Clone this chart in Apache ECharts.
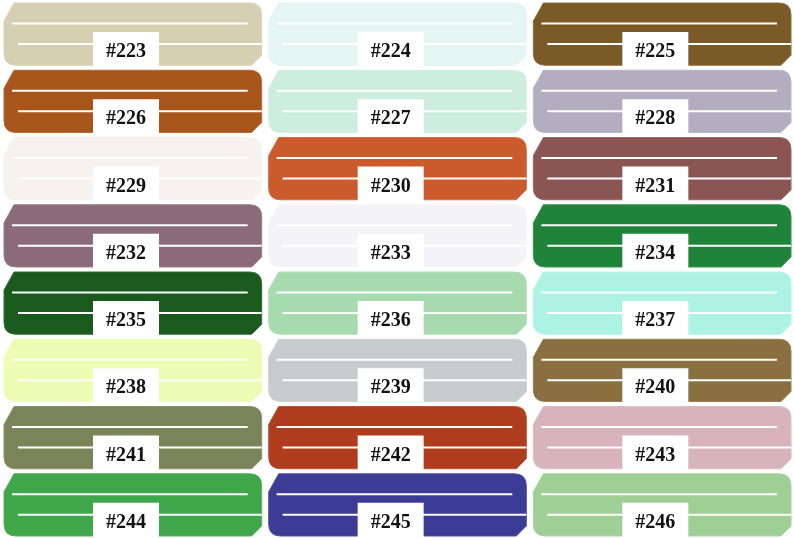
<!DOCTYPE html>
<html><head><meta charset="utf-8">
<script src="https://cdn.jsdelivr.net/npm/echarts@6/dist/echarts.min.js"></script>
<style>html,body{margin:0;padding:0;background:#fff}#c{width:794px;height:538px}</style>
</head><body><div id="c"></div>
<script>
// thread numbers, read row by row (3 per row)
const codes = ['#223','#224','#225','#226','#227','#228','#229','#230','#231','#232','#233','#234',
  '#235','#236','#237','#238','#239','#240','#241','#242','#243','#244','#245','#246'];
const colors = ['#d6cfb2','#e4f5f2','#7a5a26','#a7561b','#cdeedf','#b3aebf','#f7f1ef','#cb5a2d','#8b5553',
  '#8b6b77','#f4f4f6','#1f8439','#1b5a1d','#a7dbaf','#acf3e4','#edfbb3','#c7cbcb','#8a6f41',
  '#7b8358','#af3c1d','#d7b3bd','#3fa749','#3c3c97','#9fcf94'];
const cols = ['0','1','2'];
const rows = ['0','1','2','3','4','5','6','7'];

let cells = codes.map((c, i) => [i % 3, Math.floor(i / 3), i]);

let chart = echarts.init(document.getElementById('c'));

function renderItem(params, api) {
  let p = api.coord([api.value(0), api.value(1)]);
  let s = api.size([1, 1]);
  let i = api.value(2);
  let w = s[0], h = s[1];
  let x0 = p[0] - w / 2 + 4, x1 = p[0] + w / 2 - 3;
  let y0 = p[1] - h / 2 + 3, y1 = p[1] + h / 2 - 2;
  let r = 12, sl = 10;
  let d = `M${x0 + sl},${y0} L${x1 - r},${y0} Q${x1},${y0} ${x1},${y0 + r} L${x1},${y1 - 10} L${x1 - sl},${y1} ` +
    `L${x0 + r},${y1} Q${x0},${y1} ${x0},${y1 - r} L${x0},${y0 + 18} Z`;
  let col = colors[i];
  let ya = y0 + (y1 - y0) * 0.33, yb = y0 + (y1 - y0) * 0.66;
  let bx = p[0] - w / 2 + 93;
  return {
    type: 'group',
    children: [
      { type: 'path', shape: { pathData: d }, style: { fill: col, stroke: echarts.color.lift(col, 0.12), lineWidth: 1 } },
      { type: 'line', shape: { x1: x0 + 8, y1: ya, x2: x1 - 14, y2: ya }, style: { stroke: '#fff', lineWidth: 2 } },
      { type: 'line', shape: { x1: x0 + 14, y1: yb, x2: x1, y2: yb }, style: { stroke: '#fff', lineWidth: 2 } },
      { type: 'rect', shape: { x: bx, y: p[1] - h / 2 + 32, width: 66, height: h - 32 }, style: { fill: '#fff' } },
      { type: 'text', style: { text: codes[i], x: bx + 33, y: p[1] - h / 2 + 52, align: 'center', verticalAlign: 'middle',
          font: 'bold 20px "Liberation Serif", serif', fill: '#111' } }
    ]
  };
}

chart.setOption({
  animation: false,
  grid: { left: 0, right: 0, top: 0, bottom: 0 },
  xAxis: { type: 'category', data: cols, show: false },
  yAxis: { type: 'category', data: rows, inverse: true, show: false },
  series: [{ type: 'custom', renderItem: renderItem, data: cells }]
});
</script></body></html>
